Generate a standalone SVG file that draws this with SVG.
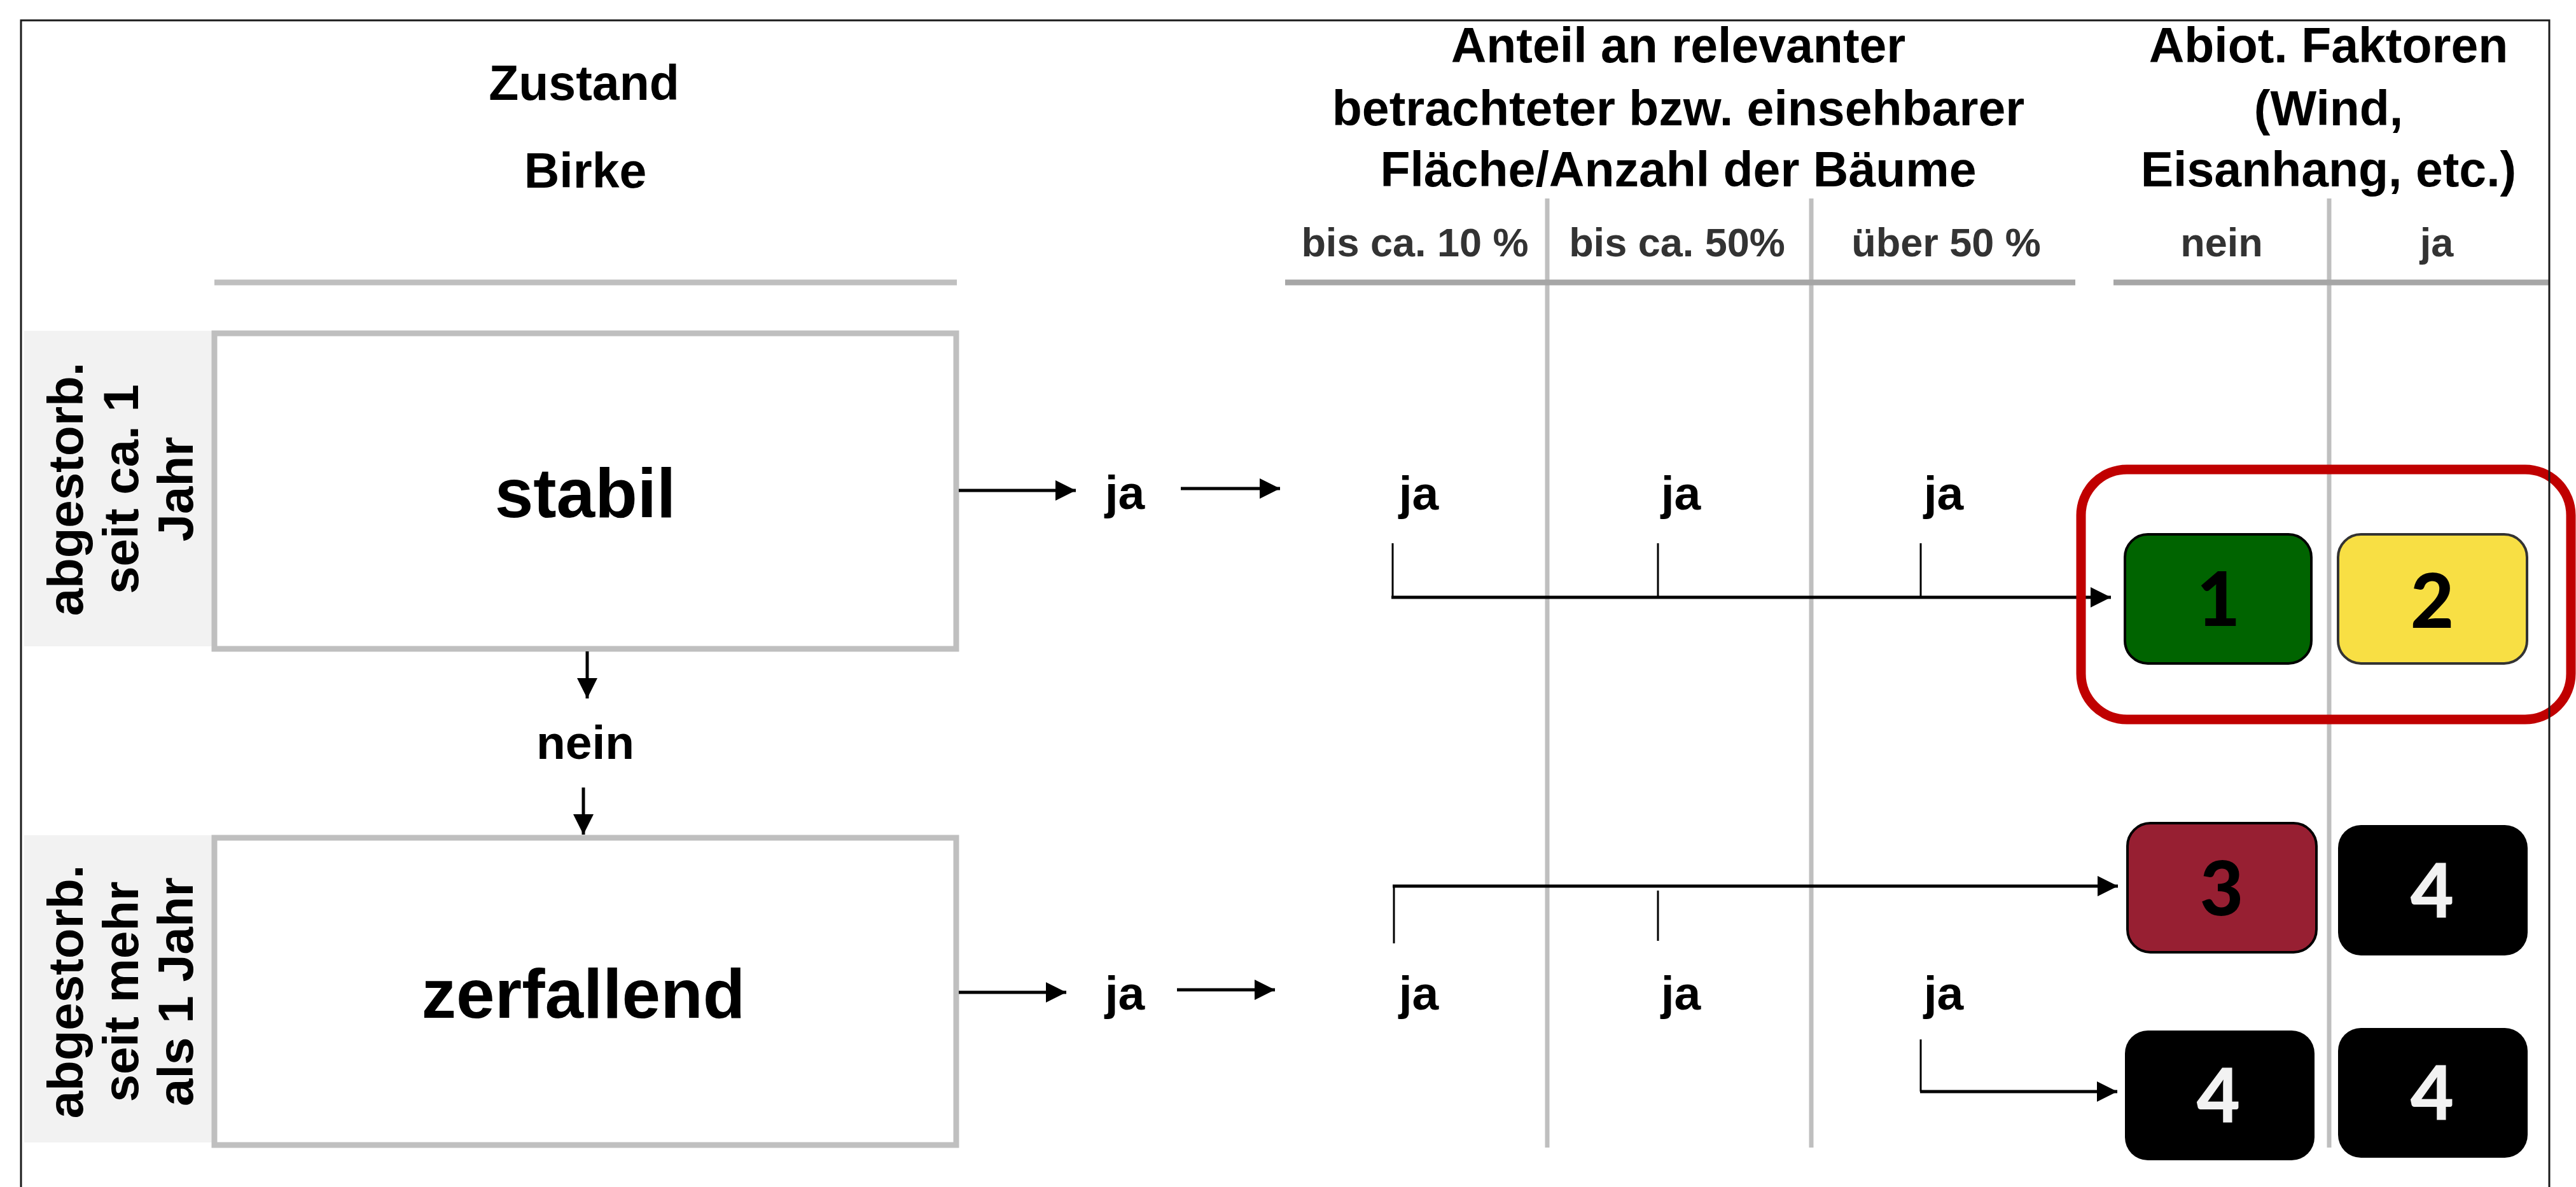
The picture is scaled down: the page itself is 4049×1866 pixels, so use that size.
<svg xmlns="http://www.w3.org/2000/svg" width="4049" height="1866" viewBox="0 0 4049 1866">
<style>
text{font-family:"Liberation Sans",Arial,sans-serif;font-weight:bold;text-anchor:middle;fill:#000}
.hdr{font-size:77px}
.sub{font-size:63px;fill:#333}
.lbl{font-size:75px}
.big{font-size:109px}
.side{font-size:78px}
.num{font-family:Lato,"Open Sans",sans-serif;font-weight:900;font-size:118px}
.grid{stroke:#bfbfbf;stroke-width:7;fill:none}
.hline{stroke:#a6a6a6;stroke-width:9}
.conn{stroke:#000;stroke-width:5;fill:none}
.tick{stroke:#000;stroke-width:3;fill:none}
.state{fill:#fff;stroke:#bfbfbf;stroke-width:9}
.sidebg{fill:#f2f2f2}
</style>
<defs>
<marker id="ah" markerUnits="userSpaceOnUse" markerWidth="32" markerHeight="32" refX="32" refY="16" orient="auto">
<path d="M0,0 L32,16 L0,32 z" fill="#000"/>
</marker>
</defs>
<rect width="4049" height="1866" fill="#fff"/>

<g id="grid">
<line class="grid" x1="2432" y1="312" x2="2432" y2="1804"/>
<line class="grid" x1="2847" y1="312" x2="2847" y2="1804"/>
<line class="grid" x1="3661" y1="312" x2="3661" y2="1804"/>
<line x1="337" y1="444" x2="1504" y2="444" stroke="#bfbfbf" stroke-width="9"/>
<line class="hline" x1="2020" y1="444" x2="3262" y2="444"/>
<line class="hline" x1="3322" y1="444" x2="4007" y2="444"/>
</g>

<g id="headers">
<text class="hdr" x="918" y="157">Zustand</text>
<text class="hdr" x="920" y="295">Birke</text>
<text class="hdr" x="2638" y="98">Anteil an relevanter</text>
<text class="hdr" x="2638" y="197">betrachteter bzw. einsehbarer</text>
<text class="hdr" x="2638" y="293">Fläche/Anzahl der Bäume</text>
<text class="hdr" x="3660" y="98">Abiot. Faktoren</text>
<text class="hdr" x="3660" y="197">(Wind,</text>
<text class="hdr" x="3660" y="293">Eisanhang, etc.)</text>
<text class="sub" x="2224" y="403">bis ca. 10 %</text>
<text class="sub" x="2636" y="403">bis ca. 50%</text>
<text class="sub" x="3059" y="403">über 50 %</text>
<text class="sub" x="3492" y="403">nein</text>
<text class="sub" x="3830" y="403">ja</text>
</g>

<g id="side-stabil">
<rect class="sidebg" x="38" y="520" width="296" height="496"/>
<text class="side" transform="translate(130,769) rotate(-90)">abgestorb.</text>
<text class="side" transform="translate(217,769) rotate(-90)">seit ca. 1</text>
<text class="side" transform="translate(303,769) rotate(-90)">Jahr</text>
</g>
<g id="side-zerfallend">
<rect class="sidebg" x="38" y="1313" width="296" height="483"/>
<text class="side" transform="translate(130,1559) rotate(-90)">abgestorb.</text>
<text class="side" transform="translate(217,1559) rotate(-90)">seit mehr</text>
<text class="side" transform="translate(303,1559) rotate(-90)">als 1 Jahr</text>
</g>

<g id="node-stabil">
<rect class="state" x="337" y="524" width="1166" height="496"/>
<text class="big" x="920" y="813">stabil</text>
</g>
<g id="node-zerfallend">
<rect class="state" x="337" y="1317" width="1166" height="483"/>
<text class="big" x="917" y="1600">zerfallend</text>
</g>

<g id="labels">
<text class="lbl" x="920" y="1193">nein</text>
<text class="lbl" x="1768" y="800">ja</text>
<text class="lbl" x="2230" y="801">ja</text>
<text class="lbl" x="2642" y="801">ja</text>
<text class="lbl" x="3055" y="801">ja</text>
<text class="lbl" x="1768" y="1587">ja</text>
<text class="lbl" x="2230" y="1587">ja</text>
<text class="lbl" x="2642" y="1587">ja</text>
<text class="lbl" x="3055" y="1587">ja</text>
</g>

<g id="connectors">
<line class="conn" x1="923" y1="1024" x2="923" y2="1098" marker-end="url(#ah)"/>
<line class="conn" x1="917" y1="1238" x2="917" y2="1312" marker-end="url(#ah)"/>
<line class="conn" x1="1507" y1="771" x2="1691" y2="771" marker-end="url(#ah)"/>
<line class="conn" x1="1856" y1="768" x2="2012" y2="768" marker-end="url(#ah)"/>
<line class="conn" x1="1507" y1="1560" x2="1676" y2="1560" marker-end="url(#ah)"/>
<line class="conn" x1="1850" y1="1556" x2="2004" y2="1556" marker-end="url(#ah)"/>
<line class="tick" x1="2189" y1="854" x2="2189" y2="939"/>
<line class="tick" x1="2606" y1="854" x2="2606" y2="939"/>
<line class="tick" x1="3019" y1="854" x2="3019" y2="939"/>
<line class="conn" x1="2187" y1="939" x2="3318" y2="939" marker-end="url(#ah)"/>
<line class="conn" x1="2189" y1="1393" x2="3329" y2="1393" marker-end="url(#ah)"/>
<line class="tick" x1="2191" y1="1393" x2="2191" y2="1483"/>
<line class="tick" x1="2606" y1="1400" x2="2606" y2="1479"/>
<path class="tick" d="M3019,1634 V1716"/>
<line class="conn" x1="3018" y1="1716" x2="3328" y2="1716" marker-end="url(#ah)"/>
</g>

<g id="highlight">
<rect x="3271" y="738" width="770" height="393" rx="72" ry="72" fill="none" stroke="#c00000" stroke-width="15"/>
</g>

<g id="result-1">
<rect x="3340" y="840" width="293" height="203" rx="36" fill="#006400" stroke="#000" stroke-width="4"/>
<text class="num" x="3487" y="984">1</text>
</g>
<g id="result-2">
<rect x="3675" y="840" width="297" height="203" rx="36" fill="#f8df44" stroke="#333" stroke-width="4"/>
<text class="num" x="3823" y="987">2</text>
</g>
<g id="result-3">
<rect x="3344" y="1294" width="297" height="203" rx="36" fill="#971f32" stroke="#000" stroke-width="4"/>
<text class="num" x="3492" y="1439">3</text>
</g>
<g id="result-4a">
<rect x="3675" y="1297" width="298" height="205" rx="36" fill="#000"/>
<text class="num" x="3823" y="1442" style="fill:#f2f2f2">4</text>
</g>
<g id="result-4b">
<rect x="3340" y="1620" width="298" height="204" rx="36" fill="#000"/>
<text class="num" x="3487" y="1764" style="fill:#f2f2f2">4</text>
</g>
<g id="result-4c">
<rect x="3675" y="1616" width="298" height="204" rx="36" fill="#000"/>
<text class="num" x="3823" y="1760" style="fill:#f2f2f2">4</text>
</g>

<g id="frame">
<path d="M33,1866 V32 H4007 V1866" fill="none" stroke="#1a1a1a" stroke-width="3"/>
</g>
</svg>
